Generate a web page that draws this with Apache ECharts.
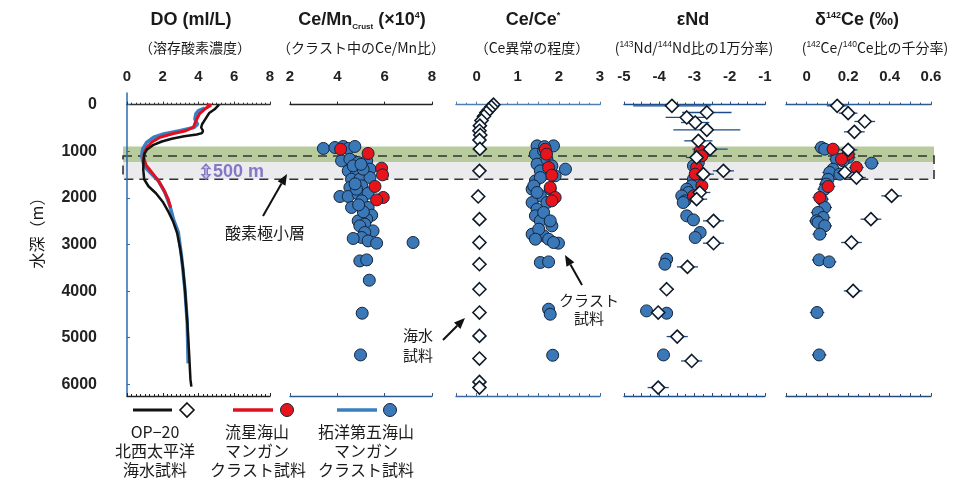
<!DOCTYPE html>
<html>
<head>
<meta charset="utf-8">
<script src="https://cdn.jsdelivr.net/npm/echarts@6/dist/echarts.min.js"></script>
<style>
  html, body { margin: 0; padding: 0; background: #fff; }
  #chart { width: 980px; height: 495px; }
</style>
</head>
<body>
<div id="chart"></div>
<script>
// depth axis
const depthMin = -250, depthMax = 6250;
const depthTicks = [0, 1000, 2000, 3000, 4000, 5000, 6000];

// DO profiles (ml/L vs depth m)
const doDepthOP = [0, 40, 100, 180, 300, 420, 490, 560, 610, 640, 680, 730, 790, 870, 960, 1050, 1200, 1400, 1600, 1750, 1900, 2100, 2300, 2500, 2750, 3100, 3500, 4000, 4600, 5300, 5900, 6050];
const doValOP   = [5.15, 5.25, 4.9, 4.6, 4.4, 4.2, 4.15, 4.25, 4.2, 3.9, 3.2, 2.5, 1.95, 1.45, 1.12, 0.98, 0.92, 0.91, 0.96, 1.2, 1.62, 2.03, 2.32, 2.57, 2.8, 2.98, 3.13, 3.25, 3.36, 3.47, 3.55, 3.6];
const doDepthRS = [0, 10, 80, 200, 350, 480, 560, 620, 700, 800, 900, 1000, 1130, 1300, 1450, 1630, 1810, 2030, 2210];
const doValRS   = [4.45, 4.7, 4.4, 4.05, 3.85, 3.72, 3.3, 2.6, 1.85, 1.4, 1.15, 1.0, 0.93, 1.07, 1.38, 1.75, 2.03, 2.31, 2.44];
const doDepthTK = [75, 130, 200, 310, 420, 490, 560, 630, 700, 810, 950, 1100, 1310, 1450, 1630, 1880, 2170, 2460, 2740, 3250, 3960, 4670, 5550];
const doValTK   = [4.35, 4.0, 3.85, 3.8, 3.95, 3.75, 2.95, 2.05, 1.5, 1.1, 0.88, 0.82, 0.95, 1.28, 1.75, 2.12, 2.4, 2.6, 2.87, 3.05, 3.24, 3.37, 3.42];

// Ce/Mn crust (x10^4)
const cemnTkDepth = [940, 919, 897, 940, 897, 1206, 1170, 1240, 1206, 1420, 1455, 1384, 1600, 1600, 1563, 1777, 1742, 1970, 1970, 1920, 1900, 2064, 2206, 2206, 2371, 2457, 2493, 2564, 2600, 2708, 2742, 2850, 2871, 2923, 2972, 2957, 3352, 3330, 3766, 4474, 5369, 1313, 1384, 1813, 1280, 1700, 2300, 2150];
const cemnTkVal   = [3.41, 3.90, 4.25, 4.46, 4.74, 4.18, 4.53, 4.88, 5.24, 4.46, 4.81, 5.38, 4.60, 4.95, 5.38, 4.53, 5.03, 4.11, 4.46, 4.88, 5.30, 5.03, 4.60, 5.30, 5.45, 5.24, 4.88, 5.16, 4.95, 5.51, 5.16, 5.03, 4.67, 5.30, 5.66, 7.20, 4.95, 5.24, 5.35, 5.05, 4.98, 4.67, 5.09, 4.81, 5.0, 4.75, 5.1, 4.9];
const cemnRsDepth = [955, 1047, 1363, 1506, 1755, 1991, 2043];
const cemnRsVal   = [4.14, 5.30, 5.87, 5.91, 5.59, 5.94, 5.66];

// Ce/Ce*
const ceanSwDepth = [0, 50, 110, 170, 250, 340, 450, 560, 650, 760, 950, 1420, 1970, 2457, 2957, 3423, 3959, 4459, 4961, 5446, 5948, 6069];
const ceanSwVal   = [0.41, 0.36, 0.30, 0.24, 0.18, 0.12, 0.08, 0.07, 0.09, 0.07, 0.08, 0.07, 0.04, 0.07, 0.07, 0.07, 0.07, 0.07, 0.07, 0.07, 0.07, 0.07];
const ceanTkDepth = [884, 884, 1062, 1277, 1420, 1384, 1527, 1635, 1813, 1957, 2100, 2242, 2385, 2493, 2600, 2779, 2815, 2886, 2972, 2957, 3386, 3373, 4388, 4496, 5376, 990, 1170, 1313, 1563, 1742, 1813, 1884, 2100, 2313, 2493, 2671, 2886, 900];
const ceanTkVal   = [1.47, 1.87, 1.43, 1.47, 1.55, 2.16, 1.91, 1.43, 1.35, 1.55, 1.35, 1.47, 1.43, 1.55, 1.83, 1.35, 1.63, 1.75, 1.99, 1.87, 1.55, 1.75, 1.75, 1.79, 1.85, 1.63, 1.71, 1.83, 1.55, 1.39, 1.79, 1.47, 1.71, 1.63, 1.79, 1.51, 1.43, 1.65];
const ceanRsDepth = [955, 1062, 1348, 1513, 1777, 1991, 2064];
const ceanRsVal   = [1.67, 1.70, 1.75, 1.83, 1.79, 1.91, 1.83];

// eNd
const ndSwDepth = [25, 168, 275, 383, 540, 776, 955, 1133, 1420, 1491, 1884, 2028, 2493, 2972, 3480, 3959, 4459, 4975, 5498, 6069];
const ndSwVal   = [-3.64, -2.65, -3.22, -2.98, -2.65, -2.89, -2.56, -2.94, -2.18, -2.75, -2.85, -2.94, -2.46, -2.46, -3.20, -3.79, -4.03, -3.49, -3.08, -4.03];
const ndSwErr   = [1.1, 0.7, 0.6, 0.4, 0.95, 0.4, 0.5, 0.3, 0.3, 0.3, 0.3, 0.3, 0.3, 0.3, 0.3, 0.2, 0.25, 0.3, 0.3, 0.3];
const ndTkDepth = [1026, 1240, 1313, 1455, 1600, 1742, 1813, 1884, 1957, 2064, 2100, 2385, 2472, 2742, 2850, 3315, 3423, 4424, 4474, 5369];
const ndTkVal   = [-2.84, -2.89, -3.03, -2.94, -3.03, -3.08, -3.22, -3.17, -3.36, -3.27, -3.32, -3.22, -3.03, -2.84, -2.98, -3.79, -3.84, -4.36, -3.79, -3.88];
const ndRsDepth = [990, 1098, 1348, 1491, 1742, 1957];
const ndRsVal   = [-2.84, -2.79, -2.94, -2.98, -2.79, -3.03];
const ndCrustErr = 0.15;

// d142Ce (permil)
const dceSwDepth = [25, 182, 361, 583, 970, 1455, 1563, 1957, 2457, 2957, 3995];
const dceSwVal   = [0.147, 0.20, 0.28, 0.23, 0.20, 0.184, 0.24, 0.41, 0.31, 0.216, 0.224];
const dceSwErr   = [0.05, 0.045, 0.05, 0.05, 0.045, 0.05, 0.045, 0.05, 0.05, 0.05, 0.045];
const dceTkDepth = [919, 955, 1133, 1170, 1206, 1255, 1384, 1455, 1491, 1600, 1706, 1813, 2028, 2206, 2313, 2421, 2493, 2528, 2600, 2779, 3330, 3373, 4459, 5369];
const dceTkVal   = [0.071, 0.087, 0.20, 0.144, 0.176, 0.313, 0.127, 0.111, 0.16, 0.103, 0.095, 0.087, 0.071, 0.087, 0.055, 0.079, 0.047, 0.055, 0.087, 0.063, 0.060, 0.108, 0.050, 0.060];
const dceRsDepth = [955, 1062, 1170, 1348, 1755, 1991];
const dceRsVal   = [0.127, 0.20, 0.168, 0.24, 0.103, 0.063];
const dceCrustErr = 0.035;

// bands (depth m)
const greenBand = [900, 1230];
const grayBand = [1230, 1600];
const omzBox = [1100, 1600];

const NUM = 'Liberation Sans, Arial, sans-serif';
const JP = 'Noto Sans CJK JP, sans-serif';
const BLUE = '#3b78b8', RED = '#e8141c', EDGE = '#14253b', PURPLE = '#8677c6';

const zip = (xs, ds, es) => xs.map((v, i) => es === undefined ? [v, ds[i]] : [v, ds[i], typeof es === 'number' ? es : es[i]]);

const chart = echarts.init(document.getElementById('chart'));

const isInt = v => Math.abs(v - Math.round(v)) < 1e-6;
const panels = [
  { left: 127, width: 143, min: 0, max: 8, interval: 2, color: '#333', minor: 8 },
  { left: 290, width: 142, min: 2, max: 8, interval: 2, color: '#222', minor: 0 },
  { left: 456, width: 144, min: -0.5, max: 3, interval: 0.5, color: '#4f7fb0', minor: 2,
    fmt: v => isInt(v) ? String(Math.round(v)) : '' },
  { left: 624, width: 141, min: -5, max: -1, interval: 0.5, color: '#1f4e8c', minor: 2,
    fmt: v => isInt(v) ? String(Math.round(v)) : '' },
  { left: 786, width: 145, min: -0.1, max: 0.6, interval: 0.1, color: '#2a5a90', minor: 2,
    fmt: v => { const k = Math.round(v * 10); return (k >= 0 && k % 2 === 0) ? (k === 0 ? '0' : (k / 10).toFixed(1)) : ''; } }
];
const bottomColors = ['#222', '#2a5a90', '#3a6aa0', '#1f4e8c', '#2a4a7a'];

const grids = panels.map(p => ({ left: p.left, width: p.width, top: 93, height: 303 }));
const xAxes = [];
panels.forEach((p, i) => {
  xAxes.push({
    type: 'value', gridIndex: i, position: 'top', min: p.min, max: p.max, interval: p.interval,
    splitLine: { show: false },
    axisLine: { show: true, lineStyle: { color: p.color, width: 1.3 } },
    axisTick: { show: true, length: 3, lineStyle: { color: p.color } },
    minorTick: { show: p.minor > 0, splitNumber: p.minor || 1, length: 2, lineStyle: { color: p.color } },
    axisLabel: { show: true, margin: 9, color: '#222', fontFamily: NUM, fontWeight: 'bold', fontSize: 15,
      formatter: p.fmt || (v => String(v)) }
  });
});
panels.forEach((p, i) => {
  xAxes.push({
    type: 'value', gridIndex: i, position: 'bottom', min: p.min, max: p.max, interval: p.interval,
    splitLine: { show: false },
    axisLine: { show: true, lineStyle: { color: bottomColors[i], width: 1.3 } },
    axisTick: { show: true, inside: true, length: 3, lineStyle: { color: bottomColors[i] } },
    minorTick: { show: p.minor > 0, splitNumber: p.minor || 1, length: 2, lineStyle: { color: bottomColors[i] } },
    axisLabel: { show: false }
  });
});
const yAxes = panels.map((p, i) => ({
  type: 'value', gridIndex: i, inverse: true, min: depthMin, max: depthMax,
  show: i === 0, position: 'left', offset: 18,
  splitLine: { show: false },
  axisLine: { show: true, lineStyle: { color: '#2a6ab0', width: 1.5 } },
  axisTick: { show: true, inside: true, length: 3, customValues: depthTicks, lineStyle: { color: '#2a6ab0' } },
  axisLabel: { margin: 12, color: '#222', fontFamily: NUM, fontWeight: 'bold', fontSize: 16,
    customValues: depthTicks, formatter: v => String(v) }
}));

function lineSeries(vals, depths, color, width, z) {
  return { type: 'line', xAxisIndex: 0, yAxisIndex: 0, data: zip(vals, depths), showSymbol: false, symbol: 'none',
    lineStyle: { color: color, width: width }, z: z, animation: false };
}
function dots(gi, vals, depths, color) {
  return { type: 'scatter', xAxisIndex: gi, yAxisIndex: gi, data: zip(vals, depths), symbol: 'circle', symbolSize: 12,
    itemStyle: { color: color, borderColor: EDGE, borderWidth: 1, opacity: 1 }, z: 3, animation: false };
}
function diamonds(gi, vals, depths) {
  return { type: 'scatter', xAxisIndex: gi, yAxisIndex: gi, data: zip(vals, depths), symbol: 'diamond', symbolSize: 13,
    itemStyle: { color: '#fff', borderColor: '#0d1b2a', borderWidth: 1.6, opacity: 1 }, z: 4, animation: false };
}
function errBars(gi, vals, depths, errs, color) {
  return { type: 'custom', xAxisIndex: gi, yAxisIndex: gi, data: zip(vals, depths, errs), encode: { x: 0, y: 1 },
    silent: true, z: 2, animation: false,
    renderItem: (params, api) => {
      const v = api.value(0), d = api.value(1), e = api.value(2);
      const a = api.coord([v - e, d]), b = api.coord([v + e, d]);
      return { type: 'line', shape: { x1: a[0], y1: a[1], x2: b[0], y2: b[1] },
        style: { stroke: color, lineWidth: 1.3 } };
    } };
}

const series = [
  lineSeries(doValTK, doDepthTK, '#3a7fc0', 3.5, 2),
  lineSeries(doValRS, doDepthRS, '#e01020', 3, 3),
  lineSeries(doValOP, doDepthOP, '#111', 2.5, 4),
  dots(1, cemnTkVal, cemnTkDepth, BLUE),
  dots(1, cemnRsVal, cemnRsDepth, RED),
  diamonds(2, ceanSwVal, ceanSwDepth),
  dots(2, ceanTkVal, ceanTkDepth, BLUE),
  dots(2, ceanRsVal, ceanRsDepth, RED),
  errBars(3, ndSwVal, ndSwDepth, ndSwErr, '#1d4c86'),
  errBars(3, ndTkVal, ndTkDepth, ndCrustErr, '#1d3d6b'),
  errBars(3, ndRsVal, ndRsDepth, ndCrustErr, '#1d3d6b'),
  dots(3, ndTkVal, ndTkDepth, BLUE),
  dots(3, ndRsVal, ndRsDepth, RED),
  diamonds(3, ndSwVal, ndSwDepth),
  errBars(4, dceSwVal, dceSwDepth, dceSwErr, '#1d4c86'),
  errBars(4, dceTkVal, dceTkDepth, dceCrustErr, '#1d3d6b'),
  errBars(4, dceRsVal, dceRsDepth, dceCrustErr, '#1d3d6b'),
  dots(4, dceTkVal, dceTkDepth, BLUE),
  dots(4, dceRsVal, dceRsDepth, RED),
  diamonds(4, dceSwVal, dceSwDepth)
];

chart.setOption({
  animation: false,
  backgroundColor: '#fff',
  grid: grids,
  xAxis: xAxes,
  yAxis: yAxes,
  series: series
});

// ---- overlays: bands, titles, annotations, legend ----
const yPx = d => chart.convertToPixel({ yAxisIndex: 0 }, d);
const bandL = 123, bandR = 934;

function txt(x, y, text, size, opts) {
  return Object.assign({ type: 'text', x: x, y: y, silent: true, z: 20,
    style: Object.assign({ text: text, fill: '#1a1a1a', fontFamily: JP, fontSize: size, align: 'center', verticalAlign: 'middle' },
      (opts && opts.style) || {}) }, (opts && opts.el) || {});
}
function arrow(x1, y1, x2, y2) {
  const a = Math.atan2(y2 - y1, x2 - x1), L = 11, W = 4.5;
  const bx = x2 - L * Math.cos(a), by = y2 - L * Math.sin(a);
  return [
    { type: 'line', silent: true, z: 20, shape: { x1: x1, y1: y1, x2: bx, y2: by }, style: { stroke: '#111', lineWidth: 2 } },
    { type: 'polygon', silent: true, z: 20, shape: { points: [[x2, y2], [bx + W * Math.sin(a), by - W * Math.cos(a)], [bx - W * Math.sin(a), by + W * Math.cos(a)]] },
      style: { fill: '#111' } }
  ];
}
// vertical double-headed arrow (for the 500 m thickness label)
function dblArrow(cx, cy, h) {
  const t = cy - h / 2, b = cy + h / 2, w = 4, hh = 4.5;
  return { type: 'polygon', silent: true, z: 20,
    shape: { points: [[cx, t], [cx + w, t + hh], [cx + 1.3, t + hh], [cx + 1.3, b - hh], [cx + w, b - hh], [cx, b],
      [cx - w, b - hh], [cx - 1.3, b - hh], [cx - 1.3, t + hh], [cx - w, t + hh]] },
    style: { fill: '#c8c0ea', stroke: PURPLE, lineWidth: 1.4 } };
}

const titleRich = {
  b: { fontSize: 18, fontWeight: 'bold', fontFamily: NUM, fill: '#1a1a1a', lineHeight: 22 },
  sub: { fontSize: 8, fontWeight: 'bold', fontFamily: NUM, fill: '#1a1a1a', lineHeight: 22, verticalAlign: 'bottom', padding: [8, 0, 0, 0] },
  sup: { fontSize: 9, fontWeight: 'bold', fontFamily: NUM, fill: '#1a1a1a', lineHeight: 22, padding: [0, 0, 9, 0] }
};
const subRich = {
  j: { fontSize: 14, fontFamily: JP, fill: '#1a1a1a', lineHeight: 18 },
  s: { fontSize: 8.5, fontFamily: NUM, fill: '#1a1a1a', lineHeight: 18, padding: [0, 0, 7, 0] }
};

const midGray = (yPx(grayBand[0]) + yPx(grayBand[1])) / 2;
const graphics = [
  { type: 'rect', silent: true, z: -1, shape: { x: bandL, y: yPx(greenBand[0]), width: bandR - bandL, height: yPx(greenBand[1]) - yPx(greenBand[0]) },
    style: { fill: '#b7cb9c' } },
  { type: 'rect', silent: true, z: -1, shape: { x: bandL, y: yPx(grayBand[0]), width: bandR - bandL, height: yPx(grayBand[1]) - yPx(grayBand[0]) },
    style: { fill: '#ebebee' } },
  { type: 'rect', silent: true, z: 0, shape: { x: bandL, y: yPx(omzBox[0]), width: bandR - bandL, height: yPx(omzBox[1]) - yPx(omzBox[0]) },
    style: { fill: null, stroke: '#333', lineWidth: 1.6, lineDash: [9, 6] } },
  dblArrow(206, midGray + 1, 15),
  txt(213, midGray + 1, '500 m', 18, { style: { fill: PURPLE, fontFamily: NUM, fontWeight: 'bold', align: 'left' } }),

  // panel titles
  txt(191, 20, '', 18, { style: { text: '{b|DO (ml/L)}', rich: titleRich } }),
  txt(362, 20, '', 18, { style: { text: '{b|Ce/Mn}{sub|Crust}{b| (×10}{sup|4}{b|)}', rich: titleRich } }),
  txt(533, 20, '', 18, { style: { text: '{b|Ce/Ce}{sup|*}', rich: titleRich } }),
  txt(693, 20, '', 18, { style: { text: '{b|εNd}', rich: titleRich } }),
  txt(857, 20, '', 18, { style: { text: '{b|δ}{sup|142}{b|Ce (‰)}', rich: titleRich } }),

  // subtitles
  txt(195, 48, '（溶存酸素濃度）', 14),
  txt(361, 48, '（クラスト中のCe/Mn比）', 14),
  txt(532, 48, '（Ce異常の程度）', 14),
  txt(694, 48, '', 14, { style: { text: '{j|(}{s|143}{j|Nd/}{s|144}{j|Nd比の1万分率)}', rich: subRich } }),
  txt(875, 48, '', 14, { style: { text: '{j|(}{s|142}{j|Ce/}{s|140}{j|Ce比の千分率)}', rich: subRich } }),

  // y axis name
  txt(37, 229, '水深（m）', 16, { el: { rotation: Math.PI / 2 } }),

  // annotations
  txt(265, 233, '酸素極小層', 16),
  ...arrow(263, 216, 287, 174),
  txt(418, 335, '海水', 15),
  txt(418, 355, '試料', 15),
  ...arrow(443, 340, 465, 318),
  txt(589, 300, 'クラスト', 15),
  txt(589, 318, '試料', 15),
  ...arrow(582, 285, 565, 255),

  // legend
  { type: 'line', silent: true, z: 20, shape: { x1: 133, y1: 410, x2: 172, y2: 410 }, style: { stroke: '#111', lineWidth: 3 } },
  { type: 'polygon', silent: true, z: 20, shape: { points: [[187, 403], [194, 410], [187, 417], [180, 410]] }, style: { fill: '#fff', stroke: '#111', lineWidth: 1.6 } },
  { type: 'line', silent: true, z: 20, shape: { x1: 233, y1: 410, x2: 273, y2: 410 }, style: { stroke: '#e01020', lineWidth: 3.5 } },
  { type: 'circle', silent: true, z: 20, shape: { cx: 287, cy: 410, r: 6.5 }, style: { fill: RED, stroke: EDGE, lineWidth: 1 } },
  { type: 'line', silent: true, z: 20, shape: { x1: 337, y1: 410, x2: 377, y2: 410 }, style: { stroke: '#3a7fc0', lineWidth: 3.5 } },
  { type: 'circle', silent: true, z: 20, shape: { cx: 390, cy: 410, r: 6.5 }, style: { fill: BLUE, stroke: EDGE, lineWidth: 1 } },
  txt(155, 432, 'OP−20', 16),
  txt(155, 451, '北西太平洋', 16),
  txt(155, 470, '海水試料', 16),
  txt(257, 432, '流星海山', 16),
  txt(257, 451, 'マンガン', 16),
  txt(258, 470, 'クラスト試料', 16),
  txt(366, 432, '拓洋第五海山', 16),
  txt(366, 451, 'マンガン', 16),
  txt(366, 470, 'クラスト試料', 16)
];

chart.setOption({ graphic: graphics });
</script>
</body>
</html>
